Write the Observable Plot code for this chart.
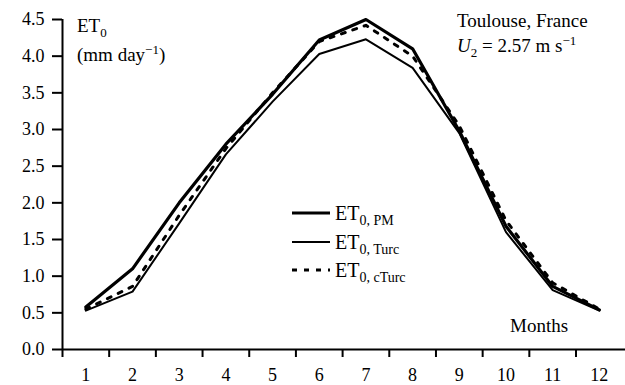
<!DOCTYPE html>
<html><head><meta charset="utf-8">
<script src="https://cdn.jsdelivr.net/npm/d3@7"></script>
<script src="https://cdn.jsdelivr.net/npm/@observablehq/plot@0.6"></script>
<style>
body{margin:0;background:#fff;}
#wrap{position:relative;width:625px;height:385px;background:#fff;font-family:'Liberation Serif','DejaVu Serif','Times New Roman',serif;}
#wrap svg{position:absolute;left:0;top:0;}
#wrap svg text{font-family:'Liberation Serif','DejaVu Serif','Times New Roman',serif;}
</style></head><body><div id="wrap"></div>
<script>
const months = [1,2,3,4,5,6,7,8,9,10,11,12];
const etPM    = [0.58,1.10,2.00,2.80,3.48,4.22,4.50,4.10,2.98,1.68,0.86,0.54];
const etTurc  = [0.53,0.79,1.72,2.66,3.38,4.03,4.23,3.84,2.95,1.60,0.81,0.53];
const etCTurc = [0.55,0.86,1.83,2.74,3.50,4.20,4.42,4.00,3.05,1.76,0.91,0.55];
const yTicks = [0,0.5,1,1.5,2,2.5,3,3.5,4,4.5];
const xTickMarks = [0.5,1.5,2.5,3.5,4.5,5.5,6.5,7.5,8.5,9.5,10.5,11.5];
const xTickLabels = ["1","2","3","4","5","6","7","8","9","10","11","12"];

const rows = (vals) => months.map((m,i)=>({month:m, value:vals[i]}));
const font = "'Liberation Serif','DejaVu Serif','Times New Roman',serif";

const chart = Plot.plot({
  width: 625, height: 385,
  marginLeft: 62, marginRight: 0, marginTop: 19, marginBottom: 36,
  style: {fontFamily: font, fontSize: "18px", background: "transparent", overflow: "visible"},
  x: {domain: [0.5, 12.56]},
  y: {domain: [0, 4.5]},
  marks: [
    Plot.axisY({ticks: yTicks, tickFormat: d => d.toFixed(1), tickSize: 10, tickPadding: 8, strokeWidth: 2, fontSize: 18, label: null}),
    Plot.axisX({ticks: xTickMarks, tickFormat: () => "", tickSize: 8, strokeWidth: 2, label: null}),
    Plot.axisX({ticks: months, tickFormat: (d,i) => xTickLabels[d-1], tickSize: 0, tickPadding: 19, fontSize: 18, label: null}),
    Plot.ruleY([0], {strokeWidth: 2}),
    Plot.ruleX([0.5], {strokeWidth: 2}),
    Plot.line(rows(etTurc), {x: "month", y: "value", stroke: "#000", strokeWidth: 2}),
    Plot.line(rows(etCTurc), {x: "month", y: "value", stroke: "#000", strokeWidth: 3, strokeDasharray: "4,8"}),
    Plot.line(rows(etPM), {x: "month", y: "value", stroke: "#000", strokeWidth: 3.2})
  ]
});
const wrap = document.getElementById("wrap");
wrap.appendChild(chart);

const ns = "http://www.w3.org/2000/svg";
const ov = document.createElementNS(ns, "svg");
ov.setAttribute("width", 625); ov.setAttribute("height", 385);
ov.innerHTML = `
  <text x="77" y="32" font-size="19">ET<tspan font-size="13" dy="5">0</tspan></text>
  <text x="77" y="61" font-size="19">(mm day<tspan font-size="13" dy="-7">−1</tspan><tspan dy="7">)</tspan></text>
  <text x="457" y="27" font-size="19">Toulouse, France</text>
  <text x="457" y="52" font-size="19"><tspan font-style="italic">U</tspan><tspan font-size="13" dy="5">2</tspan><tspan dy="-5"> = 2.57 m s</tspan><tspan font-size="13" dy="-7">−1</tspan></text>
  <text x="510" y="332" font-size="19">Months</text>
  <line x1="292" x2="330" y1="213" y2="213" stroke="#000" stroke-width="3.2"/>
  <line x1="292" x2="330" y1="242" y2="242" stroke="#000" stroke-width="2"/>
  <line x1="292" x2="330" y1="270" y2="270" stroke="#000" stroke-width="3" stroke-dasharray="5,7"/>
  <text x="335" y="220" font-size="20">ET<tspan font-size="14" dy="5">0, PM</tspan></text>
  <text x="335" y="249" font-size="20">ET<tspan font-size="14" dy="5">0, Turc</tspan></text>
  <text x="335" y="277" font-size="20">ET<tspan font-size="14" dy="5">0, cTurc</tspan></text>
`;
wrap.appendChild(ov);
</script>
</body></html>
